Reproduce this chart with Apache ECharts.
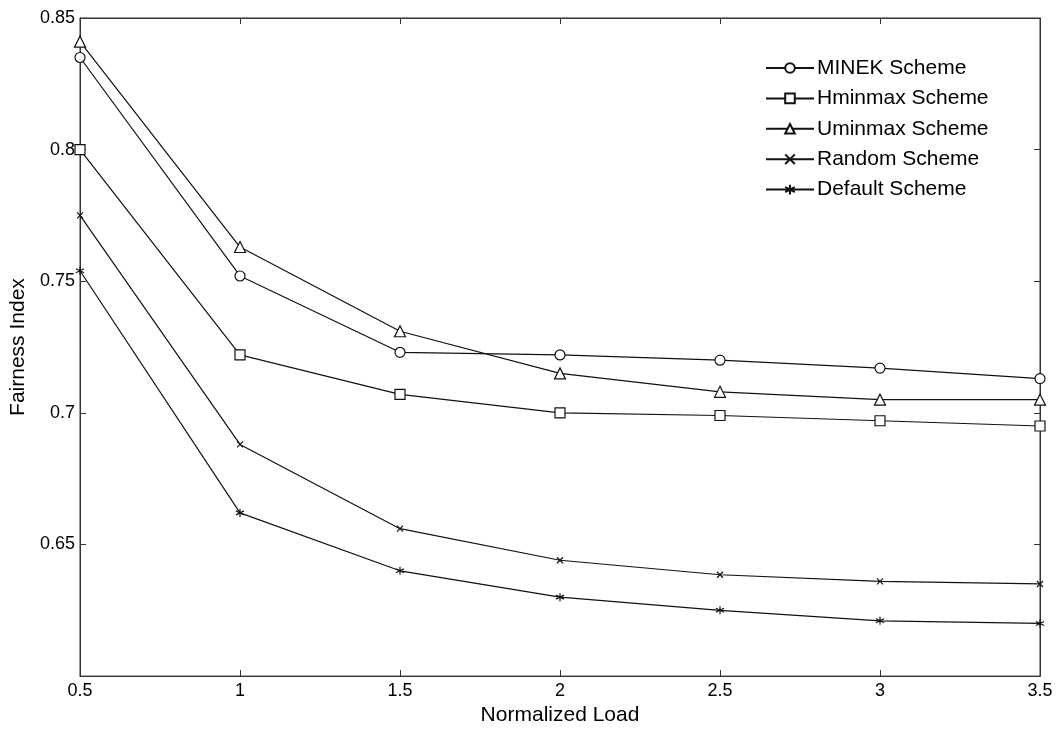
<!DOCTYPE html>
<html>
<head>
<meta charset="utf-8">
<script src="https://cdn.jsdelivr.net/npm/echarts@6/dist/echarts.min.js"></script>
<style>html,body{margin:0;padding:0;background:#fff}#c{width:1056px;height:731px}</style>
</head>
<body>
<div id="c"></div>
<script>
const loads = [0.5, 1, 1.5, 2, 2.5, 3, 3.5];
const minek   = [0.835, 0.752, 0.723, 0.722, 0.720, 0.717, 0.713];
const hminmax = [0.800, 0.722, 0.707, 0.700, 0.699, 0.697, 0.695];
const uminmax = [0.841, 0.763, 0.731, 0.715, 0.708, 0.705, 0.705];
const random  = [0.775, 0.688, 0.656, 0.644, 0.6385, 0.636, 0.635];
const deflt   = [0.754, 0.662, 0.640, 0.630, 0.625, 0.621, 0.620];
const seriesNames = ['MINEK Scheme', 'Hminmax Scheme', 'Uminmax Scheme', 'Random Scheme', 'Default Scheme'];
const yTicks = { min: 0.6, max: 0.85, step: 0.05 };
const xTicks = { min: 0.5, max: 3.5, step: 0.5 };

const FONT = 'Liberation Sans, Arial, sans-serif';
const pair = ys => loads.map((x, i) => [x, ys[i]]);

const symbols = [
  { symbol: 'circle', size: 10 },
  { symbol: 'rect', size: 10 },
  { symbol: 'triangle', size: 11 },
  { symbol: 'path://M0,0L10,10M0,10L10,0', size: 6 },
  { symbol: 'path://M5,0L5,10M0.7,2.5L9.3,7.5M0.7,7.5L9.3,2.5', size: 8 }
];
const datas = [minek, hminmax, uminmax, random, deflt];

const chart = echarts.init(document.getElementById('c'), null, { renderer: 'canvas' });
chart.setOption({
  backgroundColor: '#fff',
  animation: false,
  textStyle: { fontFamily: FONT },
  grid: { left: 80, right: 16, top: 18, bottom: 53, show: true, borderColor: '#333', borderWidth: 1 },
  legend: {
    orient: 'vertical',
    left: 765,
    top: 56,
    padding: 0,
    itemWidth: 48,
    itemHeight: 12,
    itemGap: 6.4,
    textStyle: { fontSize: 21, color: '#000', fontFamily: FONT, lineHeight: 24, padding: [0, 0, 0, -2] },
    data: seriesNames
  },
  xAxis: [{
    type: 'value', min: xTicks.min, max: xTicks.max, interval: xTicks.step,
    name: 'Normalized Load', nameLocation: 'middle', nameGap: 28,
    nameTextStyle: { fontSize: 21, color: '#000', fontFamily: FONT },
    axisLine: { show: true, lineStyle: { color: '#333', width: 1 } },
    axisTick: { show: true, inside: true, length: 6, lineStyle: { color: '#333' } },
    axisLabel: { fontSize: 18, color: '#000', margin: 6, fontFamily: FONT },
    splitLine: { show: false }
  }, {
    type: 'value', position: 'top', min: xTicks.min, max: xTicks.max, interval: xTicks.step,
    axisLine: { show: true, lineStyle: { color: '#333', width: 1 } },
    axisTick: { show: true, inside: true, length: 6, lineStyle: { color: '#333' } },
    axisLabel: { show: false }, splitLine: { show: false }
  }],
  yAxis: [{
    type: 'value', min: yTicks.min, max: yTicks.max, interval: yTicks.step,
    name: 'Fairness Index', nameLocation: 'middle', nameGap: 50,
    nameTextStyle: { fontSize: 21, color: '#000', fontFamily: FONT },
    axisLine: { show: true, lineStyle: { color: '#333', width: 1 } },
    axisTick: { show: true, inside: true, length: 6, lineStyle: { color: '#333' } },
    axisLabel: { fontSize: 18, color: '#000', margin: 5, showMinLabel: false, fontFamily: FONT,
                 formatter: v => String(+v.toFixed(2)) },
    splitLine: { show: false }
  }, {
    type: 'value', position: 'right', min: yTicks.min, max: yTicks.max, interval: yTicks.step,
    axisLine: { show: true, lineStyle: { color: '#333', width: 1 } },
    axisTick: { show: true, inside: true, length: 6, lineStyle: { color: '#333' } },
    axisLabel: { show: false }, splitLine: { show: false }
  }],
  series: seriesNames.map((name, i) => ({
    name,
    type: 'line',
    xAxisIndex: 0, yAxisIndex: 0,
    data: pair(datas[i]),
    symbol: symbols[i].symbol,
    symbolSize: symbols[i].size,
    showAllSymbol: true,
    lineStyle: { color: '#111', width: 1.2 },
    itemStyle: { color: (i >= 3 ? 'none' : '#fff'), borderColor: '#111', borderWidth: 1.2 },
    emphasis: { disabled: true }
  }))
});
</script>
</body>
</html>
